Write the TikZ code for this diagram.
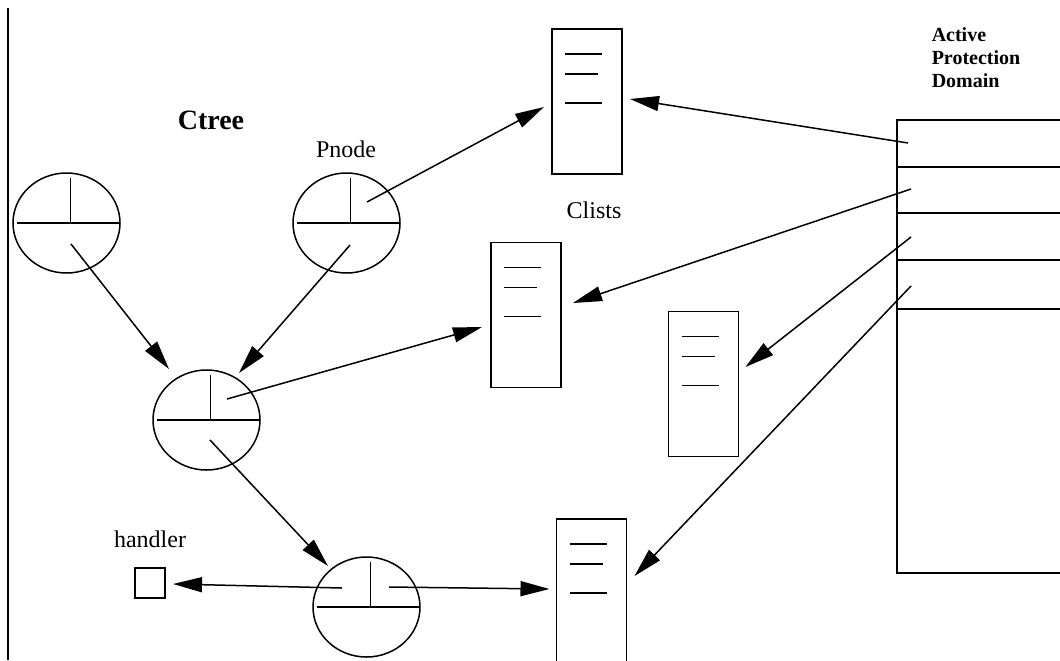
\documentclass[tikz,border=0pt]{standalone}
\usepackage{fontspec}
\setmainfont{Liberation Serif}
\usetikzlibrary{arrows.meta,shapes.geometric}

\begin{document}
\begin{tikzpicture}[x=0.5pt,y=-0.5pt,line width=0.75pt,
	pnode/.style={draw,ellipse,minimum width=53.5pt,minimum height=50pt,inner sep=0pt,outer sep=0pt},
	clist/.style={draw,rectangle,minimum width=35pt,minimum height=72.5pt,inner sep=0pt,outer sep=0pt},
	ptr/.style={-{Triangle[length=14.5pt,width=7.5pt]}},
	lbl/.style={font=\fontsize{12}{14}\selectfont}]
	\clip (0,0) rectangle (1060,660);
	\draw (8,8) -- (8,660);
	\node[pnode] (e1) at (66.5,223) {};
	\node[pnode] (e2) at (346.5,223) {};
	\node[pnode] (e3) at (206.5,420) {};
	\node[pnode] (e4) at (366.5,607) {};
	\foreach \n in {e1,e2,e3,e4} {
		\draw ([shift={(-49.5,0)}]\n.center) -- (\n.east);
		\draw ([shift={(4,-45)}]\n.center) -- ([shift={(4,0)}]\n.center);
	}
	\node[clist] (c1) at (587,101.5) {};
	\node[clist] (c2) at (526,315) {};
	\node[clist] (c3) at (703.5,384) {};
	\node[clist] (c4) at (591.5,591.5) {};
	\foreach \n in {c1,c2,c3,c4} {
		\draw ([shift={(13,25)}]\n.north west) -- ++(37,0);
		\draw ([shift={(13,45)}]\n.north west) -- ++(33,0);
		\draw ([shift={(13,74)}]\n.north west) -- ++(37,0);
	}
	\node[draw,rectangle,anchor=north west,minimum width=110pt,minimum height=226.5pt,inner sep=0pt,outer sep=0pt] (apd) at (897,120) {};
	\foreach \y in {167,213,260,309}
		\draw (897,\y) -- (1060,\y);
	\node[draw,rectangle,minimum size=15pt,inner sep=0pt,outer sep=0pt] (hdl) at (150,583) {};

	\node[font=\bfseries\fontsize{14}{16}\selectfont] (ctree) at (211,120) {Ctree};
	\node[lbl] (pnodelbl) at (346,149) {Pnode};
	\node[lbl] (clistlbl) at (594,210) {Clists};
	\node[lbl] (hdllbl) at (150,539) {handler};
	\node[font=\bfseries\fontsize{10}{11.5}\selectfont,align=left,anchor=west,inner sep=0pt] (apdlbl) at (931,58) {Active\\Protection\\Domain};

	\draw[ptr] ([shift={(20.5,-21)}]e2.center) -- ([shift={(-8,5.5)}]c1.west);
	\draw[ptr] ([shift={(11,23)}]apd.north west) -- ([shift={(8,-2.5)}]c1.east);
	\draw[ptr] ([shift={(14,69)}]apd.north west) -- ([shift={(12,-12)}]c2.east);
	\draw[ptr] ([shift={(14,117)}]apd.north west) -- ([shift={(7,-17)}]c3.east);
	\draw[ptr] ([shift={(14,166)}]apd.north west) -- ([shift={(8,-15.5)}]c4.east);
	\draw[ptr] ([shift={(4.5,21)}]e1.center) -- ([shift={(-37.5,-51)}]e3.center);
	\draw[ptr] ([shift={(3.5,22)}]e2.center) -- ([shift={(32.5,-47)}]e3.center);
	\draw[ptr] ([shift={(20.5,-21)}]e3.center) -- ([shift={(-9,12)}]c2.west);
	\draw[ptr] ([shift={(3.5,20)}]e3.center) -- ([shift={(-38.5,-41)}]e4.center);
	\draw[ptr] ([shift={(-24.5,-19)}]e4.center) -- ([shift={(8,1)}]hdl.east);
	\draw[ptr] ([shift={(22.5,-20)}]e4.center) -- ([shift={(-7,-2.5)}]c4.west);
\end{tikzpicture}
\end{document}
